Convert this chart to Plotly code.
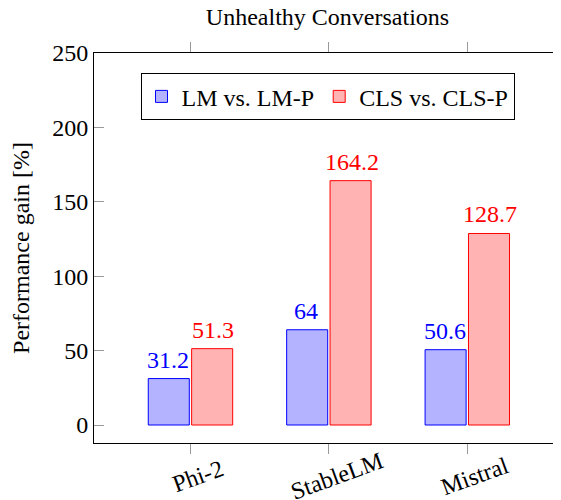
import plotly.graph_objects as go

categories = ["Phi-2", "StableLM", "Mistral"]
lm_gain = [31.2, 64, 50.6]
cls_gain = [51.3, 164.2, 128.7]
series_names = ["LM vs. LM-P", "CLS vs. CLS-P"]
y_ticks = [0, 50, 100, 150, 200, 250]

FONT = "Liberation Serif"
FS = 24
BLUE, RED = "#0000ff", "#ff0000"

fig = go.Figure()
fig.add_trace(go.Bar(
    x=categories, y=lm_gain, name=series_names[0],
    marker=dict(color="#b3b3ff", line=dict(color=BLUE, width=1)),
))
fig.add_trace(go.Bar(
    x=categories, y=cls_gain, name=series_names[1],
    marker=dict(color="#ffb3b3", line=dict(color=RED, width=1)),
))
# invisible helper trace for right-side y ticks
fig.add_trace(go.Scatter(x=[categories[0]], y=[0], yaxis="y2", mode="markers",
                         marker=dict(opacity=0), showlegend=False, hoverinfo="skip"))

# value labels above bars
for vals, shift, col in ((lm_gain, -22.7, BLUE), (cls_gain, 22.7, RED)):
    for c, v in zip(categories, vals):
        fig.add_annotation(x=c, y=v, xref="x", yref="y", text=f"{v:g}", showarrow=False,
                           xanchor="center", yanchor="bottom", xshift=shift, yshift=4,
                           font=dict(size=FS, family=FONT, color=col))

# rotated category labels, centred under each tick
for c in categories:
    fig.add_annotation(x=c, xref="x", y=-0.085, yref="paper", text=c,
                       textangle=-20, showarrow=False, xanchor="center", yanchor="middle",
                       xshift=8, font=dict(size=FS, family=FONT, color="black"))

fig.update_layout(
    width=553, height=492,
    margin=dict(l=86, r=0, t=45, b=57),
    paper_bgcolor="white", plot_bgcolor="white",
    font=dict(family=FONT, size=FS, color="black"),
    barmode="group", bargap=0.373, bargroupgap=0.054,
    title=dict(text="Unhealthy Conversations", x=0.5, xanchor="center",
               xref="paper", y=0.982, yref="container", yanchor="middle",
               font=dict(size=FS, family=FONT, color="black")),
    xaxis=dict(range=[-0.697, 2.677], showline=True, linecolor="black", linewidth=1,
               mirror="ticks", ticks="outside", ticklen=10, tickcolor="#999999",
               showticklabels=False, showgrid=False, zeroline=False, automargin=False),
    yaxis=dict(range=[-12.1, 250], tickvals=y_ticks, showline=True, linecolor="black",
               linewidth=1, ticks="inside", ticklen=10, tickcolor="#999999",
               showgrid=False, zeroline=False, automargin=False,
               title=dict(text="Performance gain [%]", standoff=20,
                          font=dict(size=FS, family=FONT)),
               tickfont=dict(size=FS, family=FONT)),
    yaxis2=dict(range=[-12.1, 250], tickvals=y_ticks, overlaying="y", side="right",
                ticks="inside", ticklen=8, tickcolor="#999999", showticklabels=False,
                showline=False, showgrid=False, zeroline=False, automargin=False),
    legend=dict(orientation="h", x=0.5, xanchor="center", y=0.948, yanchor="top",
                bordercolor="black", borderwidth=1, bgcolor="white",
                font=dict(size=FS, family=FONT), itemwidth=30, traceorder="normal"),
)

fig.write_html("out.html")
